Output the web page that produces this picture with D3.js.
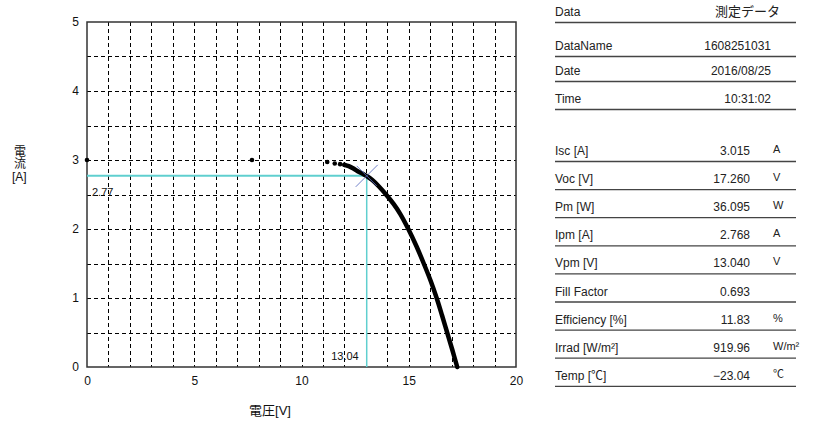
<!DOCTYPE html>
<html>
<head>
<meta charset="utf-8">
<script src="https://cdn.jsdelivr.net/npm/d3@7"></script>
<style>
  body { margin: 0; background: #fff; }
  text { font-family: "Liberation Sans", "Noto Sans CJK JP", sans-serif; }
</style>
</head>
<body>
<script>
// IV sweep: the few sparse samples, then the dense part of the curve
const sweepV = [0, 7.69, 11.2, 11.55, 11.8, 12.0];
const sweepI = [3.00, 3.00, 2.97, 2.95, 2.94, 2.93];
const curveV = [12.0, 12.2, 12.4, 12.6, 12.85, 13.04, 13.3, 13.6, 13.97, 14.3, 14.6, 14.98, 15.36, 15.70, 16.02, 16.3, 16.55, 16.79, 17.03, 17.26];
const curveI = [2.93, 2.91, 2.88, 2.84, 2.80, 2.768, 2.71, 2.62, 2.49, 2.36, 2.22, 2.00, 1.75, 1.50, 1.25, 1.00, 0.75, 0.50, 0.25, 0.00];

const mppV = 13.04;
const mppI = 2.77;

const xTicks = [0, 5, 10, 15, 20];
const yTicks = [0, 1, 2, 3, 4, 5];

const infoLabels = ["Data", "DataName", "Date", "Time"];
const infoValues = ["測定データ", "1608251031", "2016/08/25", "10:31:02"];

const paramLabels = ["Isc [A]", "Voc [V]", "Pm [W]", "Ipm [A]", "Vpm [V]", "Fill Factor", "Efficiency [%]", "Irrad [W/m²]", "Temp [℃]"];
const paramValues = ["3.015", "17.260", "36.095", "2.768", "13.040", "0.693", "11.83", "919.96", "−23.04"];
const paramUnits = ["A", "V", "W", "A", "V", "", "%", "W/m²", "℃"];

const width = 813;
const height = 421;

const svg = d3.select("body")
    .append("svg")
    .attr("width", width)
    .attr("height", height);

const x = d3.scaleLinear().domain([0, 20]).range([87, 516]);
const y = d3.scaleLinear().domain([0, 5]).range([367, 22]);

const axisFont = '"Liberation Sans Narrow", "DejaVu Sans Condensed", sans-serif';

// dashed grid
const grid = svg.append("g")
    .attr("stroke", "#000")
    .attr("stroke-width", 1)
    .attr("stroke-dasharray", "4,3");

grid.selectAll("line.v")
    .data(x.ticks(20).filter(d => d > 0 && d < 20))
    .join("line")
    .attr("class", "v")
    .attr("x1", d => Math.round(x(d)) + 0.5)
    .attr("x2", d => Math.round(x(d)) + 0.5)
    .attr("y1", y(5))
    .attr("y2", y(0));

grid.selectAll("line.h")
    .data(d3.range(1, 10).map(d => d / 2))
    .join("line")
    .attr("class", "h")
    .attr("y1", d => Math.round(y(d)) + 0.5)
    .attr("y2", d => Math.round(y(d)) + 0.5)
    .attr("x1", x(0))
    .attr("x2", x(20));

// frame
svg.append("rect")
    .attr("x", x(0))
    .attr("y", y(5))
    .attr("width", x(20) - x(0))
    .attr("height", y(0) - y(5))
    .attr("fill", "none")
    .attr("stroke", "#333")
    .attr("stroke-width", 1.5);

// axis labels
svg.append("g")
    .attr("transform", `translate(0,${y(0)})`)
    .call(d3.axisBottom(x).tickValues(xTicks).tickSize(0).tickPadding(9).tickFormat(d3.format("d")))
    .call(g => g.select(".domain").remove())
    .selectAll("text")
    .attr("font-family", axisFont)
    .attr("font-size", 12)
    .attr("fill", "#111");

svg.append("g")
    .attr("transform", `translate(${x(0)},0)`)
    .call(d3.axisLeft(y).tickValues(yTicks).tickSize(0).tickPadding(8).tickFormat(d3.format("d")))
    .call(g => g.select(".domain").remove())
    .selectAll("text")
    .attr("font-family", axisFont)
    .attr("font-size", 12)
    .attr("fill", "#111");

svg.append("text")
    .attr("x", 270)
    .attr("y", 415)
    .attr("text-anchor", "middle")
    .attr("font-size", 13)
    .attr("fill", "#111")
    .text("電圧[V]");

// vertical y title: kanji stacked, unit below
svg.append("text")
    .attr("x", 18.5)
    .attr("y", 145)
    .attr("writing-mode", "vertical-rl")
    .attr("font-size", 12)
    .attr("fill", "#111")
    .text("電流");
svg.append("text")
    .attr("x", 12)
    .attr("y", 181)
    .attr("font-size", 12)
    .attr("fill", "#111")
    .text("[A]");

// maximum power point guides
const cyan = "#5fcfcf";
svg.append("line")
    .attr("x1", x(0)).attr("x2", x(mppV))
    .attr("y1", y(mppI)).attr("y2", y(mppI))
    .attr("stroke", cyan).attr("stroke-width", 2);
svg.append("line")
    .attr("x1", x(mppV)).attr("x2", x(mppV))
    .attr("y1", y(mppI)).attr("y2", y(0))
    .attr("stroke", cyan).attr("stroke-width", 1.5);

svg.append("text")
    .attr("x", x(0) + 5)
    .attr("y", 196)
    .attr("font-family", axisFont)
    .attr("font-size", 11)
    .attr("fill", "#111")
    .text(mppI.toFixed(2));

svg.append("text")
    .attr("x", x(mppV) - 8)
    .attr("y", 360)
    .attr("text-anchor", "end")
    .attr("font-family", axisFont)
    .attr("font-size", 11)
    .attr("fill", "#111")
    .text(mppV.toFixed(2));

// IV curve
const curve = curveV.map((v, i) => [v, curveI[i]]);
svg.append("path")
    .datum(curve)
    .attr("fill", "none")
    .attr("stroke", "#000")
    .attr("stroke-width", 4.5)
    .attr("stroke-linecap", "round")
    .attr("d", d3.line().x(d => x(d[0])).y(d => y(d[1])).curve(d3.curveCatmullRom));

svg.append("g")
    .selectAll("circle")
    .data(sweepV.map((v, i) => [v, sweepI[i]]))
    .join("circle")
    .attr("cx", d => x(d[0]))
    .attr("cy", d => y(d[1]))
    .attr("r", 2.3)
    .attr("fill", "#000");

// cross at the maximum power point
const cx = x(mppV), cy = y(mppI);
svg.append("path")
    .attr("d", `M${cx - 11},${cy + 11}L${cx + 11},${cy - 11}M${cx - 10},${cy - 10}L${cx + 10},${cy + 10}`)
    .attr("stroke", "#5a6cc0")
    .attr("stroke-width", 1)
    .attr("opacity", 0.85);

// info table
const tableLeft = 555, tableRight = 796;
const infoLines = [22, 56, 81, 109];

const info = svg.append("g");
infoLabels.forEach((label, i) => {
    info.append("text").attr("x", tableLeft).attr("y", infoLines[i] - 6)
        .attr("font-size", 12).attr("fill", "#222").text(label);
    info.append("text").attr("x", i === 0 ? 780 : 771).attr("y", infoLines[i] - 6)
        .attr("text-anchor", "end")
        .attr("font-size", i === 0 ? 13 : 12).attr("fill", "#222").text(infoValues[i]);
    info.append("line").attr("x1", tableLeft).attr("x2", tableRight)
        .attr("y1", infoLines[i] + 0.5).attr("y2", infoLines[i] + 0.5)
        .attr("stroke", "#444").attr("stroke-width", 1.3);
});

const params = svg.append("g");
paramLabels.forEach((label, i) => {
    const ly = 161 + i * 28.1;
    params.append("text").attr("x", tableLeft).attr("y", ly - 6)
        .attr("font-size", 12).attr("fill", "#222").text(label);
    params.append("text").attr("x", 750).attr("y", ly - 6)
        .attr("text-anchor", "end")
        .attr("font-size", 12).attr("fill", "#222").text(paramValues[i]);
    params.append("text").attr("x", 773).attr("y", ly - 8)
        .attr("font-size", 11).attr("fill", "#222").text(paramUnits[i]);
    params.append("line").attr("x1", tableLeft).attr("x2", tableRight)
        .attr("y1", ly + 0.5).attr("y2", ly + 0.5)
        .attr("stroke", "#444").attr("stroke-width", 1.3);
});
</script>
</body>
</html>
